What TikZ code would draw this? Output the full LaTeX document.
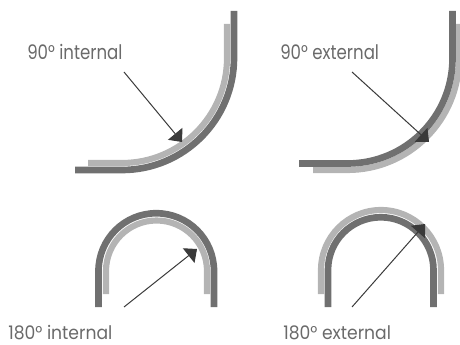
\documentclass[tikz,border=0pt]{standalone}
\usepackage{fontspec}
\newfontfamily\labelfont[FakeStretch=0.83]{Poppins}
\newfontfamily\widelabelfont[FakeStretch=0.92]{Poppins}
\usetikzlibrary{arrows.meta}
\definecolor{benddark}{HTML}{707070}
\definecolor{bendlight}{HTML}{B4B4B4}
\definecolor{labelgray}{HTML}{6A6A6A}
\definecolor{arrowgray}{HTML}{3A3A3A}
\begin{document}
\begin{tikzpicture}[x=0.75pt, y=-0.75pt,
  every node/.style={inner sep=0pt, anchor=base west, text=labelgray, font=\labelfont\fontsize{15}{18}\selectfont},
  wide/.style={font=\widelabelfont\fontsize{14}{17}\selectfont},
  dark/.style={draw=benddark, line width=5pt},
  light/.style={draw=bendlight, line width=4.6pt},
  pointer/.style={-{Triangle[length=8pt, width=14pt]}, draw=arrowgray, line width=0.75pt}]
\useasboundingbox (0,0) rectangle (460,345);
% 90 internal
\draw[light] (88,163) -- (122,163) arc[start angle=90, end angle=0, radius=105] -- (227,24);
\draw[dark] (75,170) -- (122,170) arc[start angle=90, end angle=0, radius=112] -- (234,11);
\node (int90) at (27,60) {90° internal};
\coordinate (a) at (124,72);
\coordinate (b) at (182,142);
\draw[pointer] (a) -- (b);
% 90 external
\draw[light] (313,170) -- (347.5,170) arc[start angle=90, end angle=0, radius=111.5] -- (459,24);
\draw[dark] (299,163.5) -- (347.5,163.5) arc[start angle=90, end angle=0, radius=105] -- (452.5,11);
\node (ext90) at (280,60) {90° external};
\coordinate (c) at (352,72);
\coordinate (d) at (429,142);
\draw[pointer] (c) -- (d);
% 180 internal
\draw[light] (106,294) -- (106,271) arc[start angle=180, end angle=360, radius=50.5] -- (207,294);
\draw[dark] (98.5,307) -- (98.5,271) arc[start angle=180, end angle=360, radius=57.75] -- (214,307);
\node[wide] (int180) at (8,339) {180° internal};
\coordinate (e) at (124,307);
\coordinate (f) at (197,249);
\draw[pointer] (e) -- (f);
% 180 external
\draw[light] (321,294) -- (321,270) arc[start angle=180, end angle=360, radius=60] -- (441,294);
\draw[dark] (328,307) -- (328,270) arc[start angle=180, end angle=360, radius=52.75] -- (433.5,307);
\node[wide] (ext180) at (283,339) {180° external};
\coordinate (g) at (352,307);
\coordinate (h) at (425,224);
\draw[pointer] (g) -- (h);
\end{tikzpicture}
\end{document}
